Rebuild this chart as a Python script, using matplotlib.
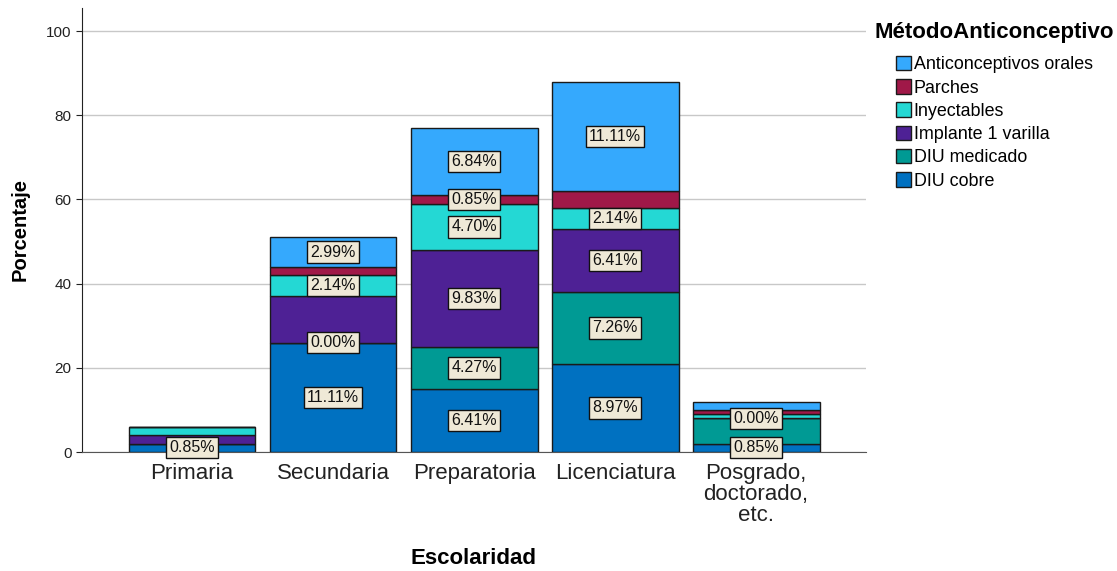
import matplotlib.pyplot as plt
import numpy as np

plt.rcParams['font.family'] = ['Liberation Sans', 'DejaVu Sans']

categorias = ['Primaria', 'Secundaria', 'Preparatoria', 'Licenciatura',
              'Posgrado,\ndoctorado,\netc.']

# stacked from bottom to top
metodos = ['DIU cobre', 'DIU medicado', 'Implante 1 varilla', 'Inyectables',
           'Parches', 'Anticonceptivos orales']
diu_cobre = [2, 26, 15, 21, 2]
diu_medicado = [0, 0, 10, 17, 6]
implante = [2, 11, 23, 15, 0]
inyectables = [2, 5, 11, 5, 1]
parches = [0, 2, 2, 4, 1]
orales = [0, 7, 16, 26, 2]

# percentage labels shown on the segments (None = not shown)
lab_cobre = ['0.85%', '11.11%', '6.41%', '8.97%', '0.85%']
lab_medicado = [None, '0.00%', '4.27%', '7.26%', None]
lab_implante = [None, None, '9.83%', '6.41%', '0.00%']
lab_inyectables = [None, '2.14%', '4.70%', '2.14%', None]
lab_parches = [None, None, '0.85%', None, None]
lab_orales = [None, '2.99%', '6.84%', '11.11%', None]

colores = ['#0071c1', '#009a94', '#4e2195', '#24d8d4', '#a01848', '#35a9fd']

series = [diu_cobre, diu_medicado, implante, inyectables, parches, orales]
etiquetas = [lab_cobre, lab_medicado, lab_implante, lab_inyectables,
             lab_parches, lab_orales]

fig = plt.figure(figsize=(11.17, 5.71), dpi=100)
ax = fig.add_axes([0.0734, 0.2084, 0.702, 0.7776])

x = np.arange(len(categorias))
base = np.zeros(len(categorias))
handles = []
for vals, labs, col, name in zip(series, etiquetas, colores, metodos):
    vals = np.array(vals, dtype=float)
    b = ax.bar(x, vals, 0.9, bottom=base, color=col, edgecolor='#1a1a1a',
               linewidth=1.0, label=name, zorder=3)
    handles.append(b)
    for i, t in enumerate(labs):
        if t is None:
            continue
        ax.text(x[i], base[i] + vals[i] / 2, t, ha='center', va='center',
                fontsize=11.5, color='#111111', zorder=5,
                bbox=dict(boxstyle='square,pad=0.2', facecolor='#efe9d7',
                          edgecolor='#111111', linewidth=1.0))
    base += vals

ax.set_xlim(-0.78, 4.78)
ax.set_ylim(0, 105.5)
ax.set_yticks([0, 20, 40, 60, 80, 100])
ax.yaxis.grid(True, color='#c8c8c8', linewidth=1.0, zorder=0)
ax.set_axisbelow(True)
ax.set_xticks(x)
ax.set_xticklabels(categorias, fontsize=16, linespacing=1.0)
ax.tick_params(axis='x', length=0, pad=8, colors='#222222')
ax.tick_params(axis='y', labelsize=11, length=4, colors='#222222')

for s in ['top', 'right']:
    ax.spines[s].set_visible(False)
ax.spines['left'].set_color('#222222')
ax.spines['bottom'].set_color('#555555')

ax.set_ylabel('Porcentaje', fontsize=14.5, fontweight='bold', labelpad=12)
fig.text(0.424, 0.003, 'Escolaridad', fontsize=16, fontweight='bold',
         ha='center', va='bottom')

fig.text(0.783, 0.962, 'MétodoAnticonceptivo', fontsize=16,
         fontweight='bold', ha='left', va='top')
leg = fig.legend(handles[::-1], metodos[::-1], loc='upper left',
                 bbox_to_anchor=(0.802, 0.902), frameon=False, fontsize=12.9,
                 handlelength=0.85, handleheight=0.85, handletextpad=0.15,
                 labelspacing=0.33, borderaxespad=0, borderpad=0)

fig.savefig('out.png', dpi=100)
